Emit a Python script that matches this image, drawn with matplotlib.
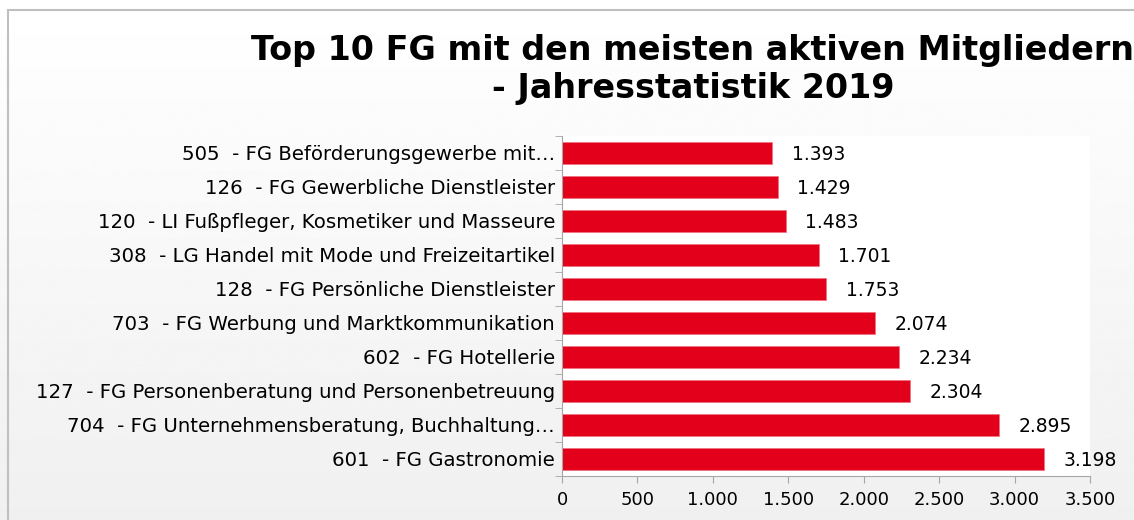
import matplotlib.pyplot as plt
import numpy as np
from matplotlib.patches import Rectangle
from matplotlib.ticker import FuncFormatter

plt.rcParams['font.family'] = ['DejaVu Sans']

# ── Daten (oben nach unten) ─────────────────────────────────────────────────
kategorien = [
    '505  - FG Beförderungsgewerbe mit…',
    '126  - FG Gewerbliche Dienstleister',
    '120  - LI Fußpfleger, Kosmetiker und Masseure',
    '308  - LG Handel mit Mode und Freizeitartikel',
    '128  - FG Persönliche Dienstleister',
    '703  - FG Werbung und Marktkommunikation',
    '602  - FG Hotellerie',
    '127  - FG Personenberatung und Personenbetreuung',
    '704  - FG Unternehmensberatung, Buchhaltung…',
    '601  - FG Gastronomie',
]
mitglieder = [1393, 1429, 1483, 1701, 1753, 2074, 2234, 2304, 2895, 3198]
x_ticks = [0, 500, 1000, 1500, 2000, 2500, 3000, 3500]

rot = '#E2001A'
grau = '#A6A6A6'


def de_format(v, pos=None):
    return f'{int(v):,}'.replace(',', '.')


fig = plt.figure(figsize=(11.34, 5.2), dpi=100)

# ── Hintergrund mit Verlauf ─────────────────────────────────────────────────
bg = fig.add_axes([0, 0, 1, 1], zorder=-2)
verlauf = np.linspace(1.0, 0.94, 256).reshape(-1, 1)
bg.imshow(verlauf, aspect='auto', cmap='gray', vmin=0, vmax=1,
          extent=[0, 1, 0, 1], origin='upper')
bg.set_xlim(0, 1)
bg.set_ylim(0, 1)
bg.axis('off')
bg.add_patch(Rectangle((8 / 1134, -0.1), 1.2, 1 - 10 / 520 + 0.1,
                       fill=False, edgecolor='#BFBFBF', linewidth=1.5))

# ── Balken ──────────────────────────────────────────────────────────────────
ax = fig.add_axes([562 / 1134, 44 / 520, (1090 - 562) / 1134, 340 / 520])
y = np.arange(len(kategorien))
ax.barh(y, mitglieder, height=0.63, color=rot, edgecolor='#F07080', linewidth=0.5)
ax.set_ylim(len(kategorien) - 0.5, -0.5)
ax.set_xlim(0, 3500)
ax.set_xticks(x_ticks)
ax.xaxis.set_major_formatter(FuncFormatter(de_format))
ax.set_yticks(y)
ax.set_yticklabels(kategorien, fontsize=14.2)
ax.set_yticks(np.arange(-0.5, len(kategorien)), minor=True)
ax.tick_params(axis='y', which='major', length=0, pad=5)
ax.tick_params(axis='y', which='minor', length=5, color=grau)
ax.tick_params(axis='x', length=5, color=grau, labelsize=13, pad=6)

for s in ['top', 'right']:
    ax.spines[s].set_visible(False)
for s in ['left', 'bottom']:
    ax.spines[s].set_color(grau)

for yi, v in zip(y, mitglieder):
    ax.text(v + 130, yi + 0.05, de_format(v), va='center', ha='left', fontsize=13.5)

fig.text(0.611, 0.935, 'Top 10 FG mit den meisten aktiven Mitgliedern\n- Jahresstatistik 2019',
         ha='center', va='top', fontsize=24, fontweight='bold', linespacing=1.2)

fig.savefig('out.png', dpi=100)
